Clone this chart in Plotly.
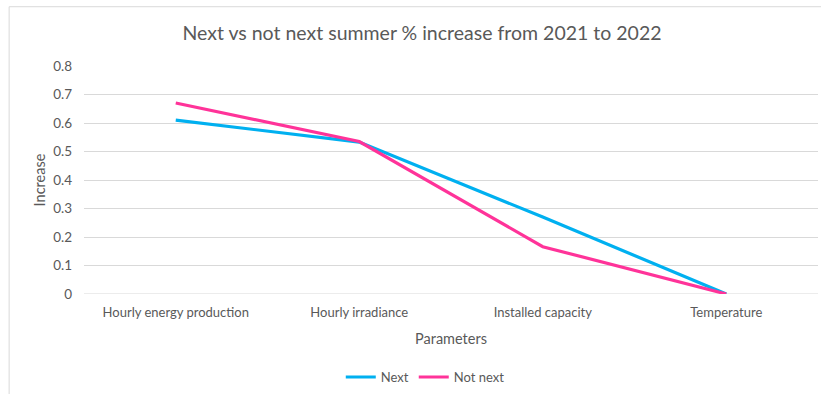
import plotly.graph_objects as go

categories = ["Hourly energy production", "Hourly irradiance", "Installed capacity", "Temperature"]
next_values = [0.61, 0.533, 0.27, 0.0]
not_next_values = [0.67, 0.535, 0.166, 0.0]
y_ticks = [0, 0.1, 0.2, 0.3, 0.4, 0.5, 0.6, 0.7, 0.8]

FONT = "Lato, 'Open Sans', sans-serif"
GREY_TEXT = "#595959"
GRID = "#D9D9D9"

fig = go.Figure()
fig.add_trace(go.Scatter(x=categories, y=next_values, mode="lines", name="Next",
                         line=dict(color="#00B0F0", width=3.2)))
fig.add_trace(go.Scatter(x=categories, y=not_next_values, mode="lines", name="Not next",
                         line=dict(color="#FF3399", width=3.2)))

fig.update_layout(
    width=821, height=394,
    paper_bgcolor="white", plot_bgcolor="white",
    margin=dict(l=84, r=3, t=66, b=100),
    font=dict(family=FONT, color=GREY_TEXT, size=12),
    title=dict(text="Next vs not next summer % increase from 2021 to 2022",
               x=0.514, xanchor="center", xref="container",
               y=0.915, yanchor="middle", yref="container",
               font=dict(size=19.5, color=GREY_TEXT, family=FONT)),
    showlegend=True,
    legend=dict(orientation="h", xref="container", x=0.518, xanchor="center",
                yref="container", y=0.043, yanchor="middle",
                font=dict(size=13, color=GREY_TEXT), itemwidth=30,
                tracegroupgap=0, bgcolor="rgba(0,0,0,0)"),
    xaxis=dict(type="category", range=[-0.5, 3.5], showgrid=False, showline=False,
               zeroline=False, ticks="", ticklabelstandoff=9,
               tickfont=dict(size=13, color=GREY_TEXT),
               title=dict(text="Parameters", font=dict(size=14.5, color=GREY_TEXT), standoff=14)),
    yaxis=dict(range=[0, 0.8], tickvals=y_ticks, ticktext=[f"{v:g}" for v in y_ticks],
               showgrid=True, gridcolor=GRID, gridwidth=1, zeroline=False, showline=False,
               ticks="", ticklabelstandoff=11, tickfont=dict(size=13.5, color=GREY_TEXT),
               title=dict(text="Increase", font=dict(size=14.5, color=GREY_TEXT), standoff=4)),
    shapes=[
        dict(type="line", xref="paper", yref="y", x0=0, x1=1, y0=0, y1=0,
             line=dict(color=GRID, width=1), layer="below"),
        dict(type="line", xref="paper", yref="paper", x0=-0.102, x1=-0.102, y0=-0.5, y1=1.26,
             line=dict(color=GRID, width=1)),
        dict(type="line", xref="paper", yref="paper", x0=-0.102, x1=1.01, y0=1.26, y1=1.26,
             line=dict(color=GRID, width=1)),
    ],
)

fig.write_html("out.html")
